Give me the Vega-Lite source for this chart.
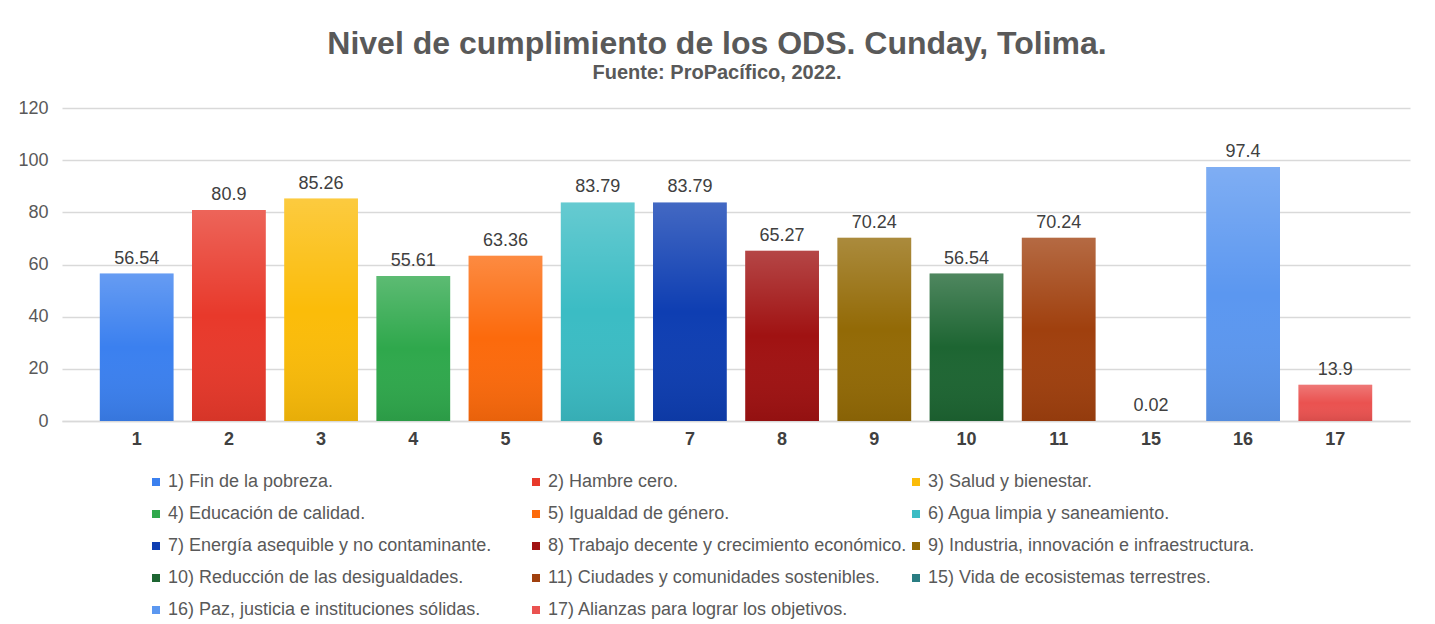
{
  "$schema": "https://vega.github.io/schema/vega-lite/v6.json",
  "autosize": {"type": "none"},
  "width": 1348,
  "height": 313,
  "padding": {"left": 62, "top": 108, "right": 25, "bottom": 203},
  "background": "white",
  "config": {"view": {"stroke": null}},
  "title": {
    "text": "Nivel de cumplimiento de los ODS. Cunday, Tolima.",
    "subtitle": "Fuente: ProPacífico, 2022.",
    "anchor": "middle",
    "dx": -19,
    "offset": 15,
    "font": "Liberation Sans",
    "fontSize": 32,
    "fontWeight": "bold",
    "color": "#595959",
    "subtitleFont": "Liberation Sans",
    "subtitleFontSize": 20,
    "subtitleFontWeight": "bold",
    "subtitleColor": "#595959",
    "subtitlePadding": 2
  },
  "data": {
    "values": [
      {"ods": 1, "valor": 56.54, "etiqueta": "56.54", "nombre": "1) Fin de la pobreza."},
      {"ods": 2, "valor": 80.9, "etiqueta": "80.9", "nombre": "2) Hambre cero."},
      {"ods": 3, "valor": 85.26, "etiqueta": "85.26", "nombre": "3) Salud y bienestar."},
      {"ods": 4, "valor": 55.61, "etiqueta": "55.61", "nombre": "4) Educación de calidad."},
      {"ods": 5, "valor": 63.36, "etiqueta": "63.36", "nombre": "5) Igualdad de género."},
      {"ods": 6, "valor": 83.79, "etiqueta": "83.79", "nombre": "6) Agua limpia y saneamiento."},
      {"ods": 7, "valor": 83.79, "etiqueta": "83.79", "nombre": "7) Energía asequible y no contaminante."},
      {"ods": 8, "valor": 65.27, "etiqueta": "65.27", "nombre": "8) Trabajo decente y crecimiento económico."},
      {"ods": 9, "valor": 70.24, "etiqueta": "70.24", "nombre": "9) Industria, innovación e infraestructura."},
      {"ods": 10, "valor": 56.54, "etiqueta": "56.54", "nombre": "10) Reducción de las desigualdades."},
      {"ods": 11, "valor": 70.24, "etiqueta": "70.24", "nombre": "11) Ciudades y comunidades sostenibles."},
      {"ods": 15, "valor": 0.02, "etiqueta": "0.02", "nombre": "15) Vida de ecosistemas terrestres."},
      {"ods": 16, "valor": 97.4, "etiqueta": "97.4", "nombre": "16) Paz, justicia e instituciones sólidas."},
      {"ods": 17, "valor": 13.9, "etiqueta": "13.9", "nombre": "17) Alianzas para lograr los objetivos."}
    ]
  },
  "encoding": {
    "x": {
      "field": "ods",
      "type": "ordinal",
      "scale": {"paddingInner": 0.2, "paddingOuter": 0.41},
      "axis": {
        "title": null,
        "labelAngle": 0,
        "labelFont": "Liberation Sans",
        "labelFontSize": 18,
        "labelFontWeight": "bold",
        "labelColor": "#404040",
        "labelPadding": 9,
        "ticks": false,
        "domainColor": "#d9d9d9",
        "domainWidth": 1.5
      }
    },
    "y": {
      "field": "valor",
      "type": "quantitative",
      "scale": {"domain": [0, 120]},
      "axis": {
        "title": null,
        "values": [0, 20, 40, 60, 80, 100, 120],
        "labelFont": "Liberation Sans",
        "labelFontSize": 18,
        "labelColor": "#595959",
        "labelPadding": 14,
        "ticks": false,
        "domain": false,
        "gridColor": "#d9d9d9",
        "gridWidth": 1.5
      }
    }
  },
  "layer": [
    {
      "mark": {"type": "bar"},
      "encoding": {
        "color": {
          "field": "nombre",
          "type": "nominal",
          "scale": {
            "domain": [
              "1) Fin de la pobreza.",
              "2) Hambre cero.",
              "3) Salud y bienestar.",
              "4) Educación de calidad.",
              "5) Igualdad de género.",
              "6) Agua limpia y saneamiento.",
              "7) Energía asequible y no contaminante.",
              "8) Trabajo decente y crecimiento económico.",
              "9) Industria, innovación e infraestructura.",
              "10) Reducción de las desigualdades.",
              "11) Ciudades y comunidades sostenibles.",
              "15) Vida de ecosistemas terrestres.",
              "16) Paz, justicia e instituciones sólidas.",
              "17) Alianzas para lograr los objetivos."
            ],
            "range": ["#3b80ef", "#e8392b", "#fbbc09", "#2fa84c", "#fc6a0c", "#3bbcc4", "#0e3eb2", "#a01212", "#936a06", "#1d6532", "#a0400e", "#2a7d82", "#5b97f0", "#ea5250"]
          },
          "legend": {
            "title": null,
            "orient": "none",
            "legendX": 85,
            "legendY": 365,
            "direction": "horizontal",
            "columns": 3,
            "gridAlign": "all",
            "columnPadding": 0,
            "rowPadding": 14,
            "symbolType": "square",
            "symbolSize": 64,
            "symbolStrokeWidth": 0,
            "labelFont": "Liberation Sans",
            "labelFontSize": 18,
            "labelColor": "#595959",
            "labelOffset": 3,
            "labelLimit": 0
          }
        }
      }
    },
    {
      "mark": {
        "type": "bar",
        "fill": {
          "gradient": "linear",
          "x1": 0, "y1": 0, "x2": 0, "y2": 1,
          "stops": [
            {"offset": 0, "color": "rgba(255,255,255,0.22)"},
            {"offset": 0.5, "color": "rgba(255,255,255,0)"},
            {"offset": 1, "color": "rgba(0,0,0,0.08)"}
          ]
        }
      }
    },
    {
      "mark": {
        "type": "text",
        "baseline": "alphabetic",
        "dy": -10,
        "font": "Liberation Sans",
        "fontSize": 18,
        "color": "#404040"
      },
      "encoding": {"text": {"field": "etiqueta"}}
    }
  ]
}
